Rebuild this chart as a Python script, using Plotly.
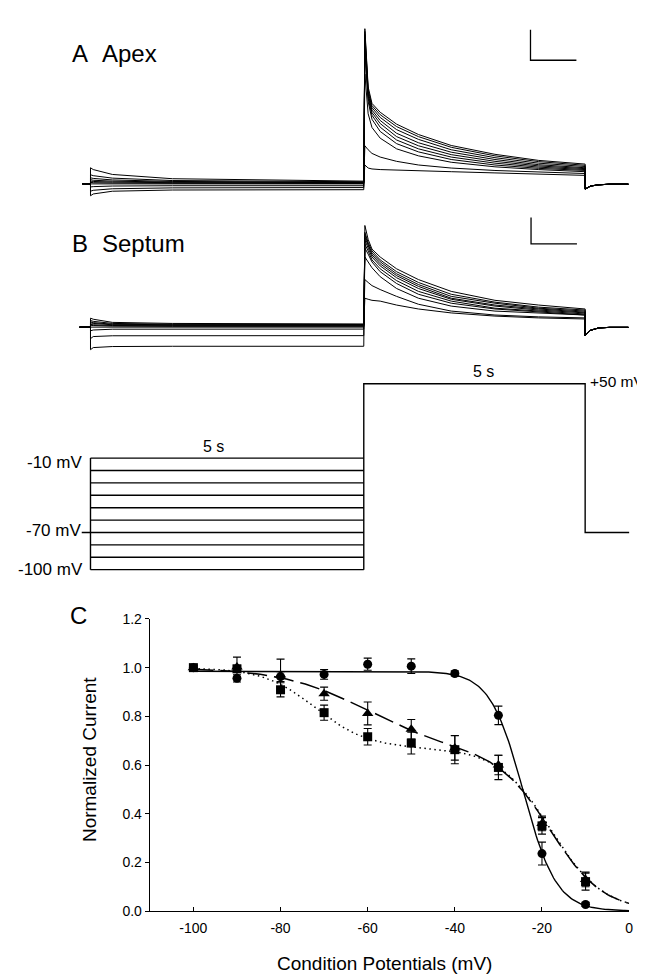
import numpy as np
import plotly.graph_objects as go

W, H = 645, 975
FONT = "Liberation Sans, Arial, Helvetica, sans-serif"

# ---------------- Panel C data ----------------
cond_mv = [-100, -90, -80, -70, -60, -50, -40, -30, -20, -10]
circle_mean = [1.000, 0.956, 0.963, 0.972, 1.014, 1.006, 0.976, 0.804, 0.236, 0.027]
circle_err = [0.010, 0.015, 0.020, 0.020, 0.025, 0.030, 0.010, 0.038, 0.047, 0.008]
triangle_mean = [1.000, 1.003, 0.970, 0.893, 0.812, 0.747, 0.670, 0.600, 0.360, 0.130]
triangle_err = [0.010, 0.040, 0.065, 0.027, 0.047, 0.040, 0.050, 0.040, 0.030, 0.030]
square_mean = [1.000, 0.995, 0.909, 0.815, 0.716, 0.690, 0.663, 0.590, 0.350, 0.121]
square_err = [0.010, 0.015, 0.029, 0.031, 0.034, 0.045, 0.058, 0.050, 0.034, 0.035]

# Boltzmann fit parameters (estimated from the drawn fit curves)
circle_fit = dict(top=0.985, v_half=-24.3, k=3.8)
triangle_fit = dict(a1=0.35, v1=-60.0, k1=10.0, a2=0.65, v2=-18.0, k2=6.0)
square_fit = dict(a1=0.33, v1=-72.0, k1=6.0, a2=0.67, v2=-18.0, k2=6.0)

x_ticks = [-100, -80, -60, -40, -20, 0]
y_ticks = [0.0, 0.2, 0.4, 0.6, 0.8, 1.0, 1.2]

# ---------------- Current traces (panels A and B), arbitrary nA ----------------
sweep_mv = [-100, -90, -80, -70, -60, -50, -40, -30, -20, -10]
t_cond = [0.0, 0.05, 0.4, 1.5, 5.0]
t_test = [5.02, 5.08, 5.15, 5.3, 5.6, 6.0, 6.6, 7.4, 8.2, 9.05]
t_tail = [9.05, 9.08, 9.15, 9.3, 9.5, 9.84]

apex_cond = {
    -100: [-0.39, -0.33, -0.24, -0.20, -0.19],
    -90: [-0.24, -0.21, -0.16, -0.13, -0.12],
    -80: [-0.10, -0.09, -0.07, -0.06, -0.06],
    -70: [0.0, 0.0, 0.0, 0.0, 0.0],
    -60: [0.05, 0.04, 0.03, 0.02, 0.015],
    -50: [0.09, 0.08, 0.06, 0.04, 0.03],
    -40: [0.14, 0.12, 0.09, 0.06, 0.04],
    -30: [0.20, 0.18, 0.13, 0.08, 0.05],
    -20: [0.30, 0.27, 0.19, 0.11, 0.07],
    -10: [0.53, 0.47, 0.31, 0.17, 0.09],
}
apex_test = {
    -100: [5.09, 3.18, 2.64, 2.35, 1.96, 1.62, 1.26, 0.97, 0.77, 0.65],
    -90: [5.00, 3.10, 2.57, 2.27, 1.88, 1.55, 1.20, 0.92, 0.73, 0.61],
    -80: [4.90, 3.02, 2.50, 2.18, 1.78, 1.46, 1.12, 0.86, 0.68, 0.57],
    -70: [4.80, 2.95, 2.42, 2.08, 1.66, 1.35, 1.04, 0.80, 0.63, 0.53],
    -60: [4.70, 2.88, 2.34, 1.98, 1.55, 1.25, 0.96, 0.74, 0.59, 0.50],
    -50: [4.60, 2.80, 2.25, 1.86, 1.44, 1.15, 0.88, 0.68, 0.55, 0.47],
    -40: [4.40, 2.70, 2.12, 1.72, 1.32, 1.05, 0.80, 0.62, 0.51, 0.44],
    -30: [3.60, 2.30, 1.85, 1.50, 1.15, 0.92, 0.71, 0.56, 0.47, 0.40],
    -20: [1.25, 1.12, 1.00, 0.88, 0.74, 0.62, 0.52, 0.44, 0.38, 0.34],
    -10: [0.62, 0.52, 0.49, 0.47, 0.45, 0.43, 0.40, 0.36, 0.32, 0.28],
}
apex_tail = [-0.17, -0.14, -0.07, -0.03, -0.01, -0.01]

septum_cond = {
    -100: [-0.86, -0.78, -0.74, -0.73, -0.73],
    -90: [-0.44, -0.36, -0.33, -0.325, -0.325],
    -80: [-0.14, -0.11, -0.08, -0.075, -0.075],
    -70: [0.0, 0.0, 0.0, 0.0, 0.0],
    -60: [0.07, 0.06, 0.04, 0.03, 0.03],
    -50: [0.10, 0.09, 0.06, 0.05, 0.049],
    -40: [0.16, 0.14, 0.09, 0.07, 0.067],
    -30: [0.20, 0.17, 0.11, 0.09, 0.086],
    -20: [0.25, 0.22, 0.14, 0.11, 0.10],
    -10: [0.34, 0.30, 0.18, 0.14, 0.12],
}
septum_test = {
    -100: [3.87, 3.34, 2.97, 2.67, 2.22, 1.81, 1.36, 1.02, 0.84, 0.69],
    -90: [3.61, 3.23, 2.90, 2.56, 2.11, 1.70, 1.25, 0.95, 0.76, 0.65],
    -80: [3.53, 3.16, 2.82, 2.49, 2.03, 1.62, 1.17, 0.91, 0.72, 0.61],
    -70: [3.42, 3.08, 2.75, 2.41, 1.96, 1.55, 1.10, 0.84, 0.69, 0.57],
    -60: [3.31, 3.01, 2.67, 2.33, 1.88, 1.47, 1.06, 0.80, 0.65, 0.54],
    -50: [3.16, 2.90, 2.56, 2.22, 1.77, 1.36, 0.99, 0.72, 0.61, 0.50],
    -40: [3.01, 2.78, 2.48, 2.11, 1.66, 1.25, 0.91, 0.69, 0.57, 0.46],
    -30: [2.67, 2.48, 2.26, 1.92, 1.47, 1.10, 0.80, 0.61, 0.54, 0.46],
    -20: [1.81, 1.70, 1.58, 1.43, 1.17, 0.87, 0.61, 0.46, 0.39, 0.35],
    -10: [1.10, 1.06, 1.02, 0.99, 0.84, 0.69, 0.54, 0.42, 0.35, 0.31],
}
septum_tail = [-0.33, -0.25, -0.12, -0.03, -0.01, -0.01]

# Voltage protocol (mV) and durations (s)
hold_mv = -70
test_mv = 50
protocol_cond_mv = [-10, -20, -30, -40, -50, -60, -70, -80, -90, -100]
t_step = 5.0
t_end = 9.05
t_stop = 9.855

# scale bars (1 nA, ~0.84 s)
scale_i = 1.0
scale_t = 0.84

# ---------------- helpers ----------------
def px_x(p):
    return p / W


def px_y(p):
    return 1 - p / H


def ann(text, x, y, size, xanchor="center", yanchor="middle", angle=0):
    return dict(text=text, x=px_x(x), y=px_y(y), xref="paper", yref="paper",
                showarrow=False, xanchor=xanchor, yanchor=yanchor, textangle=angle,
                borderpad=0,
                font=dict(size=size, family=FONT, color="black"))


fig = go.Figure()
BLK = "black"


def add_sweeps(cond, test, tail, yaxis, t_hold):
    for v in sweep_mv:
        xs = [t_hold, 0.0] + t_cond + t_test + t_tail
        ys = [0.0, 0.0] + cond[v] + test[v] + tail
        fig.add_trace(go.Scatter(x=xs, y=ys, mode="lines", xaxis="x", yaxis=yaxis,
                                 line=dict(color=BLK, width=1.0), hoverinfo="skip"))


add_sweeps(apex_cond, apex_test, apex_tail, "y", -0.15)
add_sweeps(septum_cond, septum_test, septum_tail, "y2", -0.2)

# scale bars
for yaxis, x0, y0 in [("y", 8.05, 4.055), ("y2", 8.06, 3.17)]:
    fig.add_trace(go.Scatter(x=[x0, x0, x0 + scale_t], y=[y0 + scale_i, y0, y0],
                             mode="lines", xaxis="x", yaxis=yaxis,
                             line=dict(color=BLK, width=1.3), hoverinfo="skip"))

# protocol
PW = 1.4
for v in protocol_cond_mv:
    fig.add_trace(go.Scatter(x=[0, t_step], y=[v, v], mode="lines", xaxis="x", yaxis="y3",
                             line=dict(color=BLK, width=PW), hoverinfo="skip"))
fig.add_trace(go.Scatter(x=[0, 0], y=[min(protocol_cond_mv), max(protocol_cond_mv)],
                         mode="lines", xaxis="x", yaxis="y3",
                         line=dict(color=BLK, width=PW), hoverinfo="skip"))
fig.add_trace(go.Scatter(x=[-0.16, 0], y=[hold_mv, hold_mv], mode="lines", xaxis="x", yaxis="y3",
                         line=dict(color=BLK, width=PW), hoverinfo="skip"))
fig.add_trace(go.Scatter(x=[t_step, t_step, t_end, t_end, t_stop],
                         y=[min(protocol_cond_mv), test_mv, test_mv, hold_mv, hold_mv],
                         mode="lines", xaxis="x", yaxis="y3",
                         line=dict(color=BLK, width=PW), hoverinfo="skip"))

# ---------------- Panel C ----------------
v = np.linspace(-100, 0, 301)
c_fit = circle_fit["top"] / (1 + np.exp((v - circle_fit["v_half"]) / circle_fit["k"]))


def dbl(p):
    return (p["a1"] / (1 + np.exp((v - p["v1"]) / p["k1"]))
            + p["a2"] / (1 + np.exp((v - p["v2"]) / p["k2"])))


fig.add_trace(go.Scatter(x=v, y=c_fit, mode="lines", xaxis="x2", yaxis="y4",
                         line=dict(color=BLK, width=1.4), hoverinfo="skip"))
fig.add_trace(go.Scatter(x=v, y=dbl(triangle_fit), mode="lines", xaxis="x2", yaxis="y4",
                         line=dict(color=BLK, width=1.5, dash="20px,7px"), hoverinfo="skip"))
fig.add_trace(go.Scatter(x=v, y=dbl(square_fit), mode="lines", xaxis="x2", yaxis="y4",
                         line=dict(color=BLK, width=1.5, dash="1.5px,3.5px"), hoverinfo="skip"))

for mean, err, sym, size in [(square_mean, square_err, "square", 9),
                             (triangle_mean, triangle_err, "triangle-up", 10),
                             (circle_mean, circle_err, "circle", 9)]:
    fig.add_trace(go.Scatter(x=cond_mv, y=mean, mode="markers", xaxis="x2", yaxis="y4",
                             marker=dict(symbol=sym, size=size, color=BLK, line=dict(width=0)),
                             error_y=dict(type="data", array=err, visible=True, color=BLK,
                                          thickness=1.1, width=4),
                             cliponaxis=False, hoverinfo="skip"))

# ---------------- layout ----------------
t_lo = (0 - 83) / 55.0
t_hi = (W - 83) / 55.0
hidden = dict(visible=False, showgrid=False, zeroline=False, fixedrange=True)

fig.update_layout(
    width=W, height=H, margin=dict(l=0, r=0, t=0, b=0),
    paper_bgcolor="white", plot_bgcolor="rgba(0,0,0,0)", showlegend=False,
    font=dict(family=FONT, color=BLK),
    xaxis=dict(domain=[0, 1], range=[t_lo, t_hi], anchor="y", **hidden),
    yaxis=dict(domain=[px_y(200), 1], range=[(170.7 - 200) / 31, 170.7 / 31], anchor="x", **hidden),
    yaxis2=dict(domain=[px_y(345), px_y(195)], range=[(316.3 - 345) / 26.7, (316.3 - 195) / 26.7],
                anchor="x", **hidden),
    yaxis3=dict(domain=[px_y(575), px_y(355)], range=[-10 - (575 - 449.5) / 1.26, -10 + (449.5 - 355) / 1.26],
                anchor="x", **hidden),
    xaxis2=dict(domain=[142.7 / W, 625 / W], range=[-110, 0], anchor="y4",
                showline=True, linecolor=BLK, linewidth=1.3, ticks="inside", ticklen=4,
                tickwidth=1.2, tickcolor=BLK, tickvals=x_ticks, ticktext=[str(t) for t in x_ticks],
                tickfont=dict(size=14, family=FONT, color=BLK), showgrid=False, zeroline=False,
                ticklabelstandoff=4),
    yaxis4=dict(domain=[px_y(910), px_y(613)], range=[0, 1.2], anchor="x2",
                showline=True, linecolor=BLK, linewidth=1.3, ticks="outside", ticklen=4,
                tickwidth=1.2, tickcolor=BLK, tickvals=y_ticks, tickformat=".1f",
                tickfont=dict(size=14, family=FONT, color=BLK), showgrid=False, zeroline=False),
    annotations=[
        ann("A", 63, 38, 24, xanchor="left"),
        ann("Apex", 94, 38, 24, xanchor="left"),
        ann("B", 63, 231, 24, xanchor="left"),
        ann("Septum", 94, 231, 24, xanchor="left"),
        ann("5 s", 207, 437.5, 16),
        ann("5 s", 478, 361.7, 16),
        ann("+50 mV", 642, 371.3, 15.5, xanchor="right"),
        ann("-10 mV", 75, 454, 17, xanchor="right"),
        ann("-70 mV", 74, 523.3, 17, xanchor="right"),
        ann("-100 mV", 76, 562.5, 17, xanchor="right"),
        ann("C", 71, 610, 24),
        ann("Normalized Current", 82, 756, 19, angle=-90),
        ann("Condition Potentials (mV)", 379, 963, 19),
    ],
)

fig.write_html("out.html")
